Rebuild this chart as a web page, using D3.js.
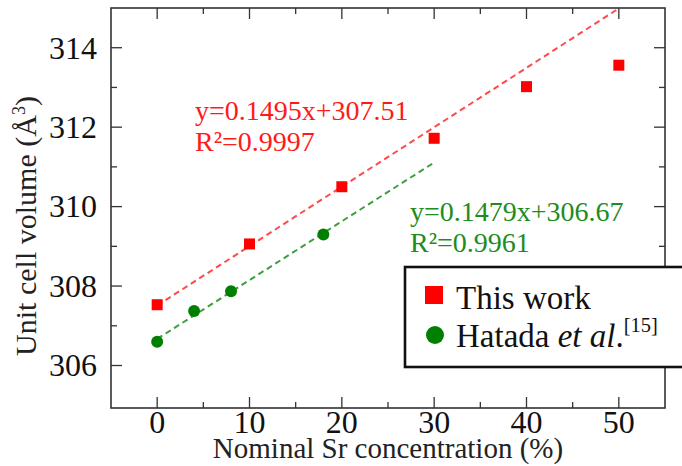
<!DOCTYPE html>
<html>
<head>
<meta charset="utf-8">
<style>
    body { margin: 0; background: #fff; }
    svg { display: block; font-family: "Liberation Serif", "Times New Roman", serif; }
    .tick-label { font-size: 32px; fill: #111; }
    .axis-title { font-size: 29px; fill: #222; }
    .legend-text { font-size: 33px; fill: #111; }
    .fit-red { font-size: 28px; fill: #ff1a1a; }
    .fit-green { font-size: 28px; fill: #1e8c1e; }
</style>
</head>
<body>
<svg width="682" height="466"></svg>

<script src="https://d3js.org/d3.v7.min.js"></script>
<script>
    // data
    const thisWorkX = [0, 10, 20, 30, 40, 50];
    const thisWorkY = [307.53, 309.06, 310.50, 311.72, 313.02, 313.56];

    const hatadaX = [0, 4, 8, 18];
    const hatadaY = [306.60, 307.37, 307.87, 309.30];

    // fitted lines (end points)
    const redFitX = [0, 50];
    const redFitY = [307.51, 314.99];
    const greenFitX = [0, 30];
    const greenFitY = [306.67, 311.11];

    const xTicks = [0, 10, 20, 30, 40, 50];
    const xMinor = [5, 15, 25, 35, 45];
    const yTicks = [306, 308, 310, 312, 314];
    const yMinor = [307, 309, 311, 313];

    const svg = d3.select("svg");

    const plotL = 111, plotR = 665, plotT = 8, plotB = 408;

    const x = d3.scaleLinear().domain([-5, 55]).range([plotL, plotR]);
    const y = d3.scaleLinear().domain([304.93, 315]).range([plotB, plotT]);

    // ticks (inward, all four sides)
    const tickG = svg.append("g").attr("stroke", "#333").attr("stroke-width", 1.3);
    xTicks.forEach(t => {
        tickG.append("line").attr("x1", x(t)).attr("x2", x(t)).attr("y1", plotB).attr("y2", plotB - 11);
        tickG.append("line").attr("x1", x(t)).attr("x2", x(t)).attr("y1", plotT).attr("y2", plotT + 11);
    });
    xMinor.forEach(t => {
        tickG.append("line").attr("x1", x(t)).attr("x2", x(t)).attr("y1", plotB).attr("y2", plotB - 6);
        tickG.append("line").attr("x1", x(t)).attr("x2", x(t)).attr("y1", plotT).attr("y2", plotT + 6);
    });
    yTicks.forEach(t => {
        tickG.append("line").attr("x1", plotL).attr("x2", plotL + 11).attr("y1", y(t)).attr("y2", y(t));
        tickG.append("line").attr("x1", plotR).attr("x2", plotR - 11).attr("y1", y(t)).attr("y2", y(t));
    });
    yMinor.forEach(t => {
        tickG.append("line").attr("x1", plotL).attr("x2", plotL + 6).attr("y1", y(t)).attr("y2", y(t));
        tickG.append("line").attr("x1", plotR).attr("x2", plotR - 6).attr("y1", y(t)).attr("y2", y(t));
    });

    // frame
    svg.append("rect")
        .attr("x", plotL).attr("y", plotT)
        .attr("width", plotR - plotL).attr("height", plotB - plotT)
        .attr("fill", "none").attr("stroke", "#333").attr("stroke-width", 1.6);

    // tick labels
    svg.append("g").selectAll("text")
        .data(xTicks)
        .join("text")
        .attr("class", "tick-label")
        .attr("x", d => x(d))
        .attr("y", 433)
        .attr("text-anchor", "middle")
        .text(d => d);

    svg.append("g").selectAll("text")
        .data(yTicks)
        .join("text")
        .attr("class", "tick-label")
        .attr("x", 97)
        .attr("y", d => y(d))
        .attr("dy", "0.34em")
        .attr("text-anchor", "end")
        .text(d => d);

    // axis titles
    svg.append("text")
        .attr("class", "axis-title")
        .attr("x", (plotL + plotR) / 2)
        .attr("y", 458)
        .attr("text-anchor", "middle")
        .text("Nominal Sr concentration (%)");

    let yt = svg.append("text")
        .attr("class", "axis-title")
        .attr("transform", "translate(36,226) rotate(-90)")
        .attr("text-anchor", "middle")
        .style("font-size", "30px");
    yt.append("tspan").text("Unit cell volume (Å");
    yt.append("tspan").attr("font-size", "0.6em").attr("dy", "-0.6em").text("3");
    yt.append("tspan").attr("dy", "0.36em").text(")");

    // fit lines
    const line = d3.line().x(d => x(d[0])).y(d => y(d[1]));

    svg.append("path")
        .datum(d3.zip(redFitX, redFitY))
        .attr("d", line)
        .attr("fill", "none")
        .attr("stroke", "#ff4a4a")
        .attr("stroke-width", 2)
        .attr("stroke-dasharray", "6,4");

    svg.append("path")
        .datum(d3.zip(greenFitX, greenFitY))
        .attr("d", line)
        .attr("fill", "none")
        .attr("stroke", "#3f9f3f")
        .attr("stroke-width", 2)
        .attr("stroke-dasharray", "6,4");

    // markers
    svg.append("g").selectAll("rect")
        .data(d3.zip(thisWorkX, thisWorkY))
        .join("rect")
        .attr("x", d => x(d[0]) - 5.5)
        .attr("y", d => y(d[1]) - 5.5)
        .attr("width", 11)
        .attr("height", 11)
        .attr("fill", "#ff0000");

    svg.append("g").selectAll("circle")
        .data(d3.zip(hatadaX, hatadaY))
        .join("circle")
        .attr("cx", d => x(d[0]))
        .attr("cy", d => y(d[1]))
        .attr("r", 6)
        .attr("fill", "#008000");

    // fit annotations
    svg.append("text").attr("class", "fit-red").attr("x", 195).attr("y", 120).text("y=0.1495x+307.51");
    svg.append("text").attr("class", "fit-red").attr("x", 195).attr("y", 151).text("R²=0.9997");
    svg.append("text").attr("class", "fit-green").attr("x", 410).attr("y", 221).text("y=0.1479x+306.67");
    svg.append("text").attr("class", "fit-green").attr("x", 410).attr("y", 252).text("R²=0.9961");

    // legend
    const lg = svg.append("g");
    lg.append("rect")
        .attr("x", 405).attr("y", 267)
        .attr("width", 290).attr("height", 100)
        .attr("fill", "#fff").attr("stroke", "#111").attr("stroke-width", 2.6);
    lg.append("rect")
        .attr("x", 425).attr("y", 286).attr("width", 18).attr("height", 18)
        .attr("fill", "#ff0000");
    lg.append("circle")
        .attr("cx", 435).attr("cy", 335).attr("r", 9)
        .attr("fill", "#008000");
    lg.append("text").attr("class", "legend-text").attr("x", 456).attr("y", 309).text("This work");
    let lt = lg.append("text").attr("class", "legend-text").attr("x", 456).attr("y", 347);
    lt.append("tspan").text("Hatada ");
    lt.append("tspan").attr("font-style", "italic").text("et al");
    lt.append("tspan").text(".");
    lt.append("tspan").attr("font-size", "0.62em").attr("dy", "-0.75em").text("[15]");
</script>
</body>
</html>
